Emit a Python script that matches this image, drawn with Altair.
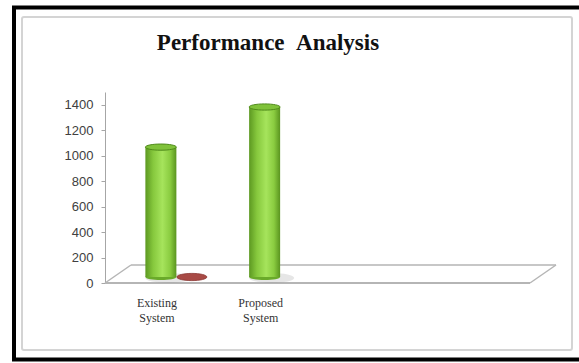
import altair as alt
import pandas as pd

# ---- chart values -------------------------------------------------------
categories = ["Existing System", "Proposed System"]
series_green = [1020, 1335]
series_red = [0, None]
y_ticks = [0, 200, 400, 600, 800, 1000, 1200, 1400]
title_text = "Performance\u00a0\u00a0Analysis"

# ---- geometry / style ---------------------------------------------------
W, H = 425, 191          # plot area
Y_MAX = 1500
X_SLOTS = 4              # the floor leaves room for four category slots
DEPTH_X, DEPTH_Y = 26, 18  # perspective depth of the floor
LIFT = -6                # columns stand in the middle of the floor depth
BAR_W = 31
PAD = {"left": 105, "top": 92, "right": 579 - 105 - W, "bottom": 363 - 92 - H}

# ellipse drawn with bezier curves in unit coordinates
def ellipse_path(ry):
    k = 0.5523
    return (f"M-1,0C-1,{-k*ry:.3f},{-k:.3f},{-ry},0,{-ry}"
            f"C{k:.3f},{-ry},1,{-k*ry:.3f},1,0"
            f"C1,{k*ry:.3f},{k:.3f},{ry},0,{ry}"
            f"C{-k:.3f},{ry},-1,{k*ry:.3f},-1,0Z")

green_df = pd.DataFrame({
    "category": categories,
    "pos": [i + 0.5 for i in range(len(categories))],
    "value": series_green,
})
green_df["base"] = 0

red_df = pd.DataFrame({
    "category": categories,
    "pos": [i + 0.5 for i in range(len(categories))],
    "value": series_red,
}).dropna()

x_enc = alt.X("pos:Q", scale=alt.Scale(domain=[0, X_SLOTS]), axis=None)
y_scale = alt.Scale(domain=[0, Y_MAX], nice=False)
y_axis = alt.Axis(values=y_ticks, grid=False, title=None, format="d",
                  labelOverlap=False, tickCount=8,
                  domainColor="#a6a6a6", tickColor="#a6a6a6", tickSize=4,
                  labelFont="Liberation Sans", labelFontSize=13,
                  labelColor="#404040", labelPadding=8)


def y_of(field):
    return alt.Y(field, scale=y_scale, axis=y_axis)


one = alt.Data(values=[{}])

# ---- frames -------------------------------------------------------------
outer = alt.Chart(one).mark_rect(filled=False, stroke="#000000", strokeWidth=4).encode(
    x=alt.value(-91), x2=alt.value(480), y=alt.value(-84.5), y2=alt.value(267.5))
inner = alt.Chart(one).mark_rect(filled=False, stroke="#d4d4d4", strokeWidth=2,
                                 cornerRadius=2).encode(
    x=alt.value(-83), x2=alt.value(467), y=alt.value(-75), y2=alt.value(258))

# ---- 3D floor -----------------------------------------------------------
floor_col = "#b5b5b5"
def seg(x1, y1, x2, y2, w=1.5):
    return alt.Chart(one).mark_rule(color=floor_col, strokeWidth=w).encode(
        x=alt.value(x1), y=alt.value(y1), x2=alt.value(x2), y2=alt.value(y2))

floor = [
    seg(0, H, W, H, 2),
    seg(DEPTH_X, H - DEPTH_Y, W + DEPTH_X, H - DEPTH_Y),
    seg(0, H, DEPTH_X, H - DEPTH_Y),
    seg(W, H, W + DEPTH_X, H - DEPTH_Y),
]

# ---- columns --------------------------------------------------------------
green_grad = alt.Gradient(
    gradient="linear", x1=0, x2=1, y1=0, y2=0,
    stops=[alt.GradientStop(color="#5c9821", offset=0),
           alt.GradientStop(color="#86c83d", offset=0.25),
           alt.GradientStop(color="#a6e45c", offset=0.55),
           alt.GradientStop(color="#8acc40", offset=0.8),
           alt.GradientStop(color="#5a941f", offset=1)])

shadow = alt.Chart(green_df).mark_point(
    shape=ellipse_path(0.22), size=(BAR_W + 14) ** 2, filled=True,
    fill="#9a9a9a", opacity=0.25, strokeWidth=0, xOffset=6, yOffset=LIFT + 1
).encode(x=x_enc, y=y_of("base:Q"))

red_disc = alt.Chart(red_df).mark_point(
    shape=ellipse_path(0.24), size=(BAR_W - 1) ** 2, filled=True,
    fill="#a84a45", stroke="#8a3430", strokeWidth=0.8, opacity=1,
    xOffset=BAR_W - 1, yOffset=LIFT
).encode(x=x_enc, y=y_of("value:Q"))

bottom = alt.Chart(green_df).mark_point(
    shape=ellipse_path(0.2), size=BAR_W ** 2, filled=True,
    fill="#6aaa2a", strokeWidth=0, opacity=1, xOffset=-1, yOffset=LIFT
).encode(x=x_enc, y=y_of("base:Q"))

body = alt.Chart(green_df).mark_bar(
    size=BAR_W, color=green_grad, xOffset=-1, yOffset=LIFT, y2Offset=LIFT
).encode(x=x_enc, y=y_of("value:Q"), y2="base:Q")

top = alt.Chart(green_df).mark_point(
    shape=ellipse_path(0.2), size=BAR_W ** 2, filled=True,
    fill="#80c23a", stroke="#4f8a1a", strokeWidth=1, opacity=1,
    xOffset=-1, yOffset=LIFT
).encode(x=x_enc, y=y_of("value:Q"))

# ---- text -----------------------------------------------------------------
cat_labels = alt.Chart(green_df).mark_text(
    lineBreak=" ", font="Liberation Serif", fontSize=12, color="#333333",
    baseline="top", lineHeight=15, dx=-5
).encode(x=x_enc, y=alt.value(206), text="category:N")

title = alt.Chart(one).mark_text(
    text=title_text, font="Liberation Serif", fontSize=23, fontWeight="bold",
    color="#111111", align="center", baseline="alphabetic"
).encode(x=alt.value(163), y=alt.value(-42))

chart = alt.layer(
    outer, inner, *floor, shadow, red_disc, bottom, body, top, cat_labels, title
).properties(
    width=W, height=H, padding=PAD,
    autosize=alt.AutoSizeParams(type="none"), background="white"
).configure_view(stroke=None)

chart.save("out.html", embed_options={"renderer": "svg", "actions": False})
